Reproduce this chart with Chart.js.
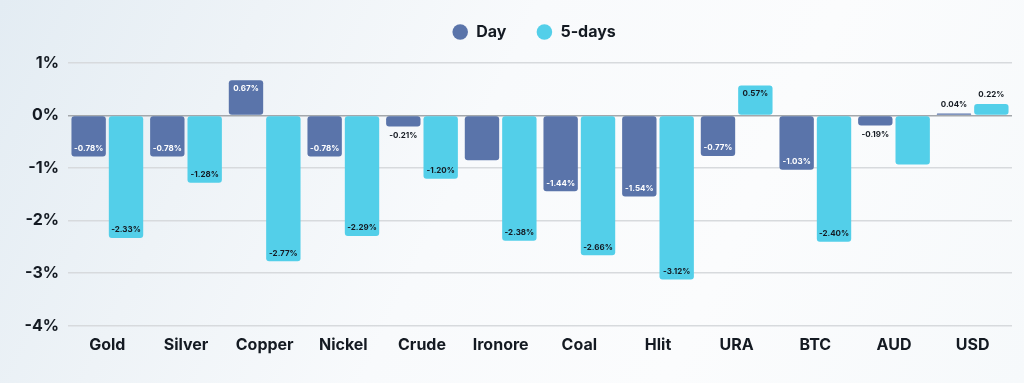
<!DOCTYPE html>
<html>
<head>
<meta charset="utf-8">
<script src="https://cdn.jsdelivr.net/npm/chart.js@4.4.1/dist/chart.umd.min.js"></script>
<style>
  html, body {
    margin: 0;
    padding: 0;
    width: 1024px;
    height: 383px;
    overflow: hidden;
    background: linear-gradient(115deg, #e3ecf3 0%, #eef3f7 22%, #f8fafc 45%, #fbfcfd 70%, #f6f9fb 100%);
  }
  #wrap {
    position: relative;
    width: 1024px;
    height: 383px;
  }
</style>
</head>
<body>
<div id="wrap"><canvas id="perfChart"></canvas></div>
<script>
const categories = ["Gold", "Silver", "Copper", "Nickel", "Crude", "Ironore", "Coal", "Hlit", "URA", "BTC", "AUD", "USD"];
const dayValues = [-0.78, -0.78, 0.67, -0.78, -0.21, -0.85, -1.44, -1.54, -0.77, -1.03, -0.19, 0.04];
const fiveDayValues = [-2.33, -1.28, -2.77, -2.29, -1.20, -2.38, -2.66, -3.12, 0.57, -2.40, -0.93, 0.22];
// bars that carry no value label in the original
const dayUnlabelled = ["Ironore"];
const fiveDayUnlabelled = ["AUD"];
const yTicks = [1, 0, -1, -2, -3, -4];

const fontFamily = "Inter, 'Open Sans', sans-serif";
const textDark = "#141a22";

const barLabels = {
  id: "barLabels",
  afterDatasetsDraw(chart) {
    const ctx = chart.ctx;
    ctx.save();
    ctx.font = `700 8px ${fontFamily}`;
    ctx.textAlign = "center";
    ctx.textBaseline = "middle";
    chart.data.datasets.forEach((ds, di) => {
      const meta = chart.getDatasetMeta(di);
      meta.data.forEach((bar, i) => {
        if (ds.unlabelled.includes(categories[i])) return;
        const v = ds.data[i];
        const len = Math.abs(bar.base - bar.y);
        const inside = len > 18;
        let y;
        if (inside) {
          y = v < 0 ? bar.y - 8 : bar.y + 8;
          ctx.fillStyle = ds.insideLabelColor;
        } else {
          y = v < 0 ? bar.y + 9 : bar.y - 9;
          ctx.fillStyle = textDark;
        }
        ctx.fillText(v.toFixed(2) + "%", bar.x, y);
      });
    });
    ctx.restore();
  }
};

// more room under the legend, and centre it over the plot area
const legendPlace = {
  id: "legendPlace",
  afterInit(chart) {
    const fit = chart.legend.fit;
    chart.legend.fit = function () {
      fit.call(this);
      this.height += 13;
    };
  },
  afterLayout(chart) {
    chart.legend.left += 28;
    chart.legend.right += 28;
  }
};

function createChart() {
  const ctx = document.getElementById("perfChart");
  new Chart(ctx, {
    type: "bar",
    data: {
      labels: categories,
      datasets: [
        {
          label: "Day",
          data: dayValues,
          backgroundColor: "#5a74aa",
          borderRadius: 3,
          borderSkipped: false,
          barPercentage: 0.92,
          categoryPercentage: 0.95,
          insideLabelColor: "#ffffff",
          unlabelled: dayUnlabelled
        },
        {
          label: "5-days",
          data: fiveDayValues,
          backgroundColor: "#53cfe9",
          borderRadius: 3,
          borderSkipped: false,
          barPercentage: 0.92,
          categoryPercentage: 0.95,
          insideLabelColor: textDark,
          unlabelled: fiveDayUnlabelled
        }
      ]
    },
    options: {
      responsive: false,
      animation: false,
      layout: {
        padding: { left: 0, right: 12, top: -6, bottom: 18 }
      },
      plugins: {
        legend: {
          position: "top",
          labels: {
            usePointStyle: true,
            pointStyle: "circle",
            boxHeight: 11,
            padding: 30,
            color: textDark,
            font: { family: fontFamily, size: 16, weight: "700" }
          }
        },
        tooltip: { enabled: false }
      },
      scales: {
        x: {
          grid: { display: false, drawTicks: false },
          border: { display: false },
          ticks: {
            color: textDark,
            padding: 10,
            font: { family: fontFamily, size: 16, weight: "700" }
          }
        },
        y: {
          min: -4,
          max: 1,
          afterFit: scale => { scale.width = 68; },
          afterBuildTicks: scale => {
            scale.ticks = yTicks.map(v => ({ value: v }));
          },
          border: { display: false },
          grid: {
            drawTicks: false,
            lineWidth: 1.5,
            color: c => (c.tick && c.tick.value === 0 ? "#a3a7ab" : "#d7dadd")
          },
          ticks: {
            color: textDark,
            padding: 9,
            font: { family: fontFamily, size: 16, weight: "700" },
            callback: v => v + "%"
          }
        }
      }
    },
    plugins: [barLabels, legendPlace]
  });
}

const canvas = document.getElementById("perfChart");
canvas.width = 1024;
canvas.height = 383;
createChart();
</script>
</body>
</html>
